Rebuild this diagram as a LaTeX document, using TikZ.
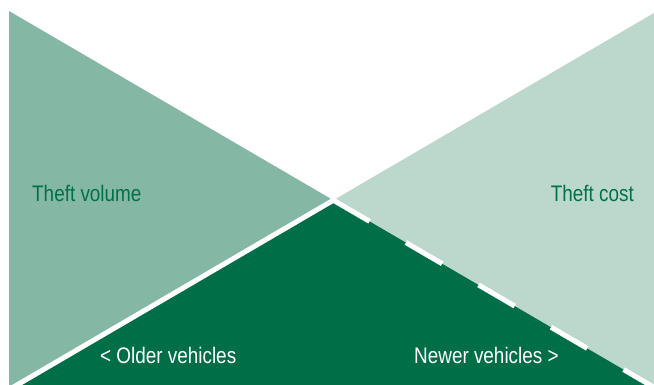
\documentclass[tikz,border=0pt]{standalone}
\usepackage{fontspec}
\setmainfont[FakeStretch=0.84]{Liberation Sans}
\usetikzlibrary{calc}
\definecolor{midgreen}{HTML}{84B8A5}
\definecolor{lightgreen}{HTML}{BCD8CC}
\definecolor{darkgreen}{HTML}{006F47}
\definecolor{textgreen}{HTML}{00714A}
\begin{document}
\begin{tikzpicture}[x=1pt,y=1pt,
  lbl/.style={inner sep=0pt, font=\fontsize{22.5}{27}\selectfont, text=textgreen},
  lblw/.style={inner sep=0pt, font=\fontsize{22.5}{27}\selectfont, text=white},
  sep/.style={draw=white, line width=5pt}]
\useasboundingbox (0,0) rectangle (654,385);
\clip (0,0) rectangle (654,385);
\coordinate (TL) at (9,374);
\coordinate (BLe) at (9,0);
\coordinate (TR) at (654,372);
\coordinate (BRe) at (654,0);
\coordinate (BL) at (17,0);
\coordinate (BR) at (650,0);
\coordinate (C) at (intersection of TL--BR and TR--BL);
\fill[midgreen] (TL) -- (C) -- (BL) -- (BLe) -- cycle;
\fill[lightgreen] (TR) -- (C) -- (BR) -- (BRe) -- cycle;
\fill[darkgreen] (C) -- (BL) -- (BR) -- cycle;
\draw[sep] (C) -- ($(C)!1.03!(BL)$);
\draw[sep, dash pattern=on 42pt off 42pt] (C) -- ($(C)!1.03!(BR)$);
\node[lbl, anchor=base west] (tv) at (32,183) {Theft volume};
\node[lbl, anchor=base east] (tc) at (634,183) {Theft cost};
\node[lblw, anchor=base west] (ov) at (100,21) {< Older vehicles};
\node[lblw, anchor=base west] (nv) at (414,21) {Newer vehicles >};
\end{tikzpicture}
\end{document}
